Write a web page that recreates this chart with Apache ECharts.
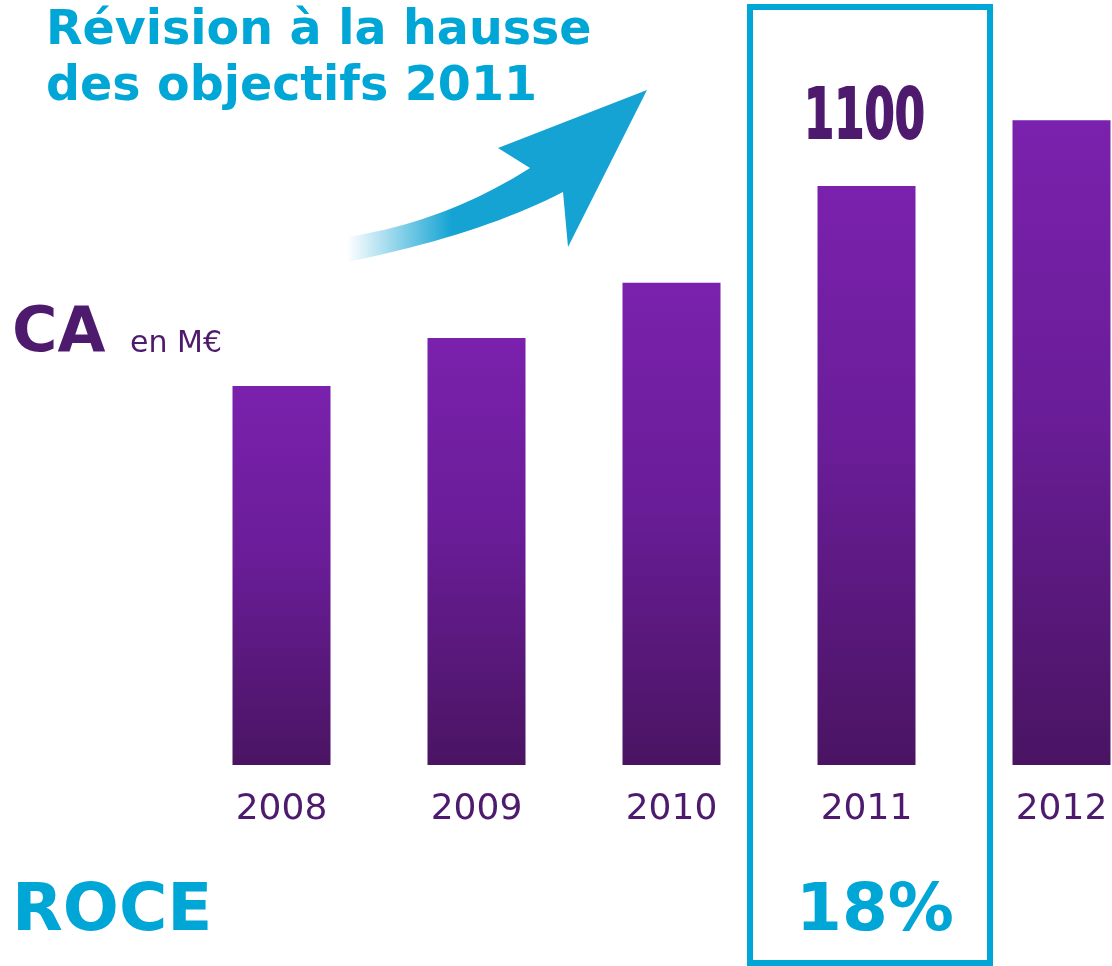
<!DOCTYPE html>
<html>
<head>
<meta charset="utf-8">
<title>CA en M€</title>
<script src="https://cdn.jsdelivr.net/npm/echarts@6/dist/echarts.min.js"></script>
<style>
  html, body { margin: 0; padding: 0; background: #fff; }
  #chart { width: 1112px; height: 966px; }
</style>
</head>
<body>
<div id="chart"></div>
<script>
// données
const years = ['2008', '2009', '2010', '2011', '2012'];
const caValues = [720, 811, 916, 1100, 1225];
const highlightYear = '2011';
const roceLabel = '18%';

const BLUE = '#00a6d6';
const PURPLE = '#4e1a6e';
const FONT = "'DejaVu Sans', Verdana, sans-serif";

let myChart = echarts.init(document.getElementById('chart'));

// dégradé vertical des barres
const barGradient = new echarts.graphic.LinearGradient(0, 0, 0, 1, [
    { offset: 0, color: '#7a21ad' },
    { offset: 0.45, color: '#6a1d98' },
    { offset: 1, color: '#4a1462' }
]);

// contour de la flèche (courbes de Bézier échantillonnées)
function quad(p0, c, p1, n) {
    let pts = [];
    for (let i = 0; i <= n; i++) {
        let t = i / n, u = 1 - t;
        pts.push([
            u * u * p0[0] + 2 * u * t * c[0] + t * t * p1[0],
            u * u * p0[1] + 2 * u * t * c[1] + t * t * p1[1]
        ]);
    }
    return pts;
}
let arrowPoints = []
    .concat(quad([347, 237], [445, 222], [530, 168], 20))
    .concat([[498, 148], [647, 90], [568, 247]])
    .concat(quad([563, 192], [480, 235], [347, 262], 20));

let option = {
    backgroundColor: '#fff',
    animation: false,
    title: {
        text: 'Révision à la hausse\ndes objectifs 2011',
        left: 46,
        top: 4,
        padding: 0,
        textStyle: {
            fontFamily: FONT,
            fontWeight: 'bold',
            fontSize: 47.5,
            lineHeight: 56,
            color: BLUE
        }
    },
    grid: {
        left: 184,
        width: 975,
        top: 28,
        bottom: 201,
        outerBoundsMode: 'none',
        containLabel: false
    },
    xAxis: {
        type: 'category',
        data: years,
        axisLine: { show: false },
        axisTick: { show: false },
        axisLabel: {
            interval: 0,
            margin: 27,
            fontFamily: FONT,
            fontSize: 36,
            color: PURPLE
        }
    },
    yAxis: {
        type: 'value',
        min: 0,
        max: 1400,
        show: false
    },
    series: [{
        name: 'CA',
        type: 'bar',
        barWidth: 98,
        data: caValues,
        itemStyle: { color: barGradient }
    }],
    graphic: [
        // flèche de révision
        {
            type: 'polygon',
            shape: { points: arrowPoints },
            style: {
                fill: new echarts.graphic.LinearGradient(0, 0, 1, 0, [
                    { offset: 0, color: 'rgba(20,163,211,0)' },
                    { offset: 0.35, color: 'rgba(20,163,211,1)' },
                    { offset: 1, color: 'rgba(20,163,211,1)' }
                ])
            }
        },
        // cadre autour de 2011
        {
            type: 'rect',
            shape: { x: 750, y: 7, width: 240, height: 956 },
            style: { fill: 'none', stroke: BLUE, lineWidth: 6 }
        },
        {
            type: 'text',
            left: 12,
            top: 304,
            style: { text: 'CA', fontFamily: FONT, fontWeight: 'bold', fontSize: 62, fill: PURPLE }
        },
        {
            type: 'text',
            left: 130,
            top: 329,
            style: { text: 'en M€', fontFamily: FONT, fontSize: 30, fill: PURPLE }
        },
        {
            type: 'text',
            left: 12,
            top: 880,
            style: { text: 'ROCE', fontFamily: FONT, fontWeight: 'bold', fontSize: 66, fill: BLUE }
        },
        {
            type: 'text',
            left: 796,
            top: 880,
            style: { text: roceLabel, fontFamily: FONT, fontWeight: 'bold', fontSize: 66, fill: BLUE }
        }
    ]
};

myChart.setOption(option);

// étiquette condensée au-dessus de la barre 2011, placée via l'échelle de l'axe
let hi = years.indexOf(highlightYear);
let pt = myChart.convertToPixel({ seriesIndex: 0 }, [highlightYear, caValues[hi]]);
myChart.setOption({
    graphic: [{
        id: 'valueLabel',
        type: 'text',
        x: pt[0] - 2,
        y: pt[1] - 31,
        scaleX: 0.62,
        style: {
            text: String(caValues[hi]),
            x: 0,
            y: 0,
            align: 'center',
            verticalAlign: 'bottom',
            fontFamily: FONT,
            fontWeight: 'bold',
            fontSize: 70,
            fill: PURPLE,
            stroke: PURPLE,
            lineWidth: 2
        }
    }]
});
</script>
</body>
</html>
